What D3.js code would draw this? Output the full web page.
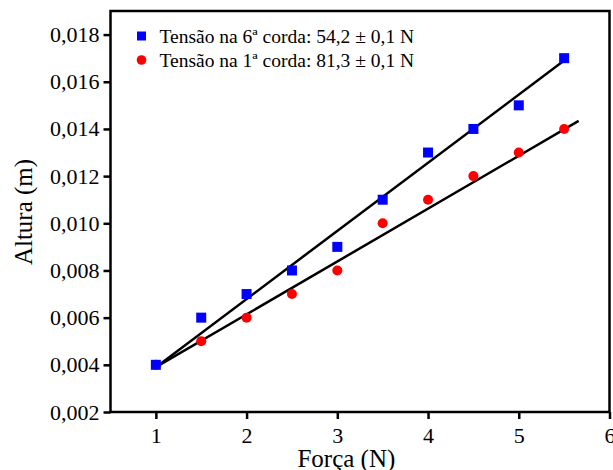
<!DOCTYPE html>
<html>
<head>
<meta charset="utf-8">
<script src="https://cdn.jsdelivr.net/npm/d3@7"></script>
<style>
  body { margin: 0; background: #fff; }
  svg { display: block; font-family: "Liberation Serif", "Times New Roman", serif; }
</style>
</head>
<body>
<svg id="chart" width="613" height="470"></svg>
<script>
// data
var forca = [1, 1.5, 2, 2.5, 3, 3.5, 4, 4.5, 5, 5.5];
var altura6 = [0.004, 0.006, 0.007, 0.008, 0.009, 0.011, 0.013, 0.014, 0.015, 0.017];
var altura1 = [0.004, 0.005, 0.006, 0.007, 0.008, 0.010, 0.011, 0.012, 0.013, 0.014];

// fitted lines (end points as drawn)
var fit6X = [1, 5.5];
var fit6Y = [0.0039, 0.0169];
var fit1X = [1, 5.66];
var fit1Y = [0.0039, 0.01434];

var xTicks = [1, 2, 3, 4, 5, 6];
var yTicks = [0.002, 0.004, 0.006, 0.008, 0.010, 0.012, 0.014, 0.016, 0.018];

var legendLabels = ['Tensão na 6ª corda: 54,2 ± 0,1 N', 'Tensão na 1ª corda: 81,3 ± 0,1 N'];

var margin = {left: 110.5, top: 11, right: 3.5, bottom: 58};
var width = 613 - margin.left - margin.right;
var height = 470 - margin.top - margin.bottom;

var svg = d3.select('#chart');
var g = svg.append('g').attr('transform', 'translate(' + margin.left + ',' + margin.top + ')');

var x = d3.scaleLinear().domain([0.5, 6]).range([0, width]);
var y = d3.scaleLinear().domain([0.002, 0.019]).range([height, 0]);

var fmt = function(d) { return d3.format('.3f')(d).replace('.', ','); };

var xAxis = g.append('g')
    .attr('transform', 'translate(0,' + height + ')')
    .call(d3.axisBottom(x).tickValues(xTicks).tickSize(7).tickPadding(8).tickFormat(d3.format('d')));
var yAxis = g.append('g')
    .call(d3.axisLeft(y).tickValues(yTicks).tickSize(7).tickPadding(4).tickFormat(fmt));

[xAxis, yAxis].forEach(function(a) {
  a.select('.domain').remove();
  a.selectAll('line').attr('stroke', '#000').attr('stroke-width', 2.5);
  a.selectAll('text').attr('font-family', '"Liberation Serif", serif').attr('font-size', 22).attr('fill', '#000');
});

// frame
g.append('rect')
  .attr('x', 0).attr('y', 0)
  .attr('width', width).attr('height', height)
  .attr('fill', 'none').attr('stroke', '#000').attr('stroke-width', 2.5);

// fit lines
var line = d3.line().x(function(d) { return x(d[0]); }).y(function(d) { return y(d[1]); });
g.append('path').datum(d3.zip(fit6X, fit6Y)).attr('d', line)
  .attr('stroke', '#000').attr('stroke-width', 2.5).attr('fill', 'none');
g.append('path').datum(d3.zip(fit1X, fit1Y)).attr('d', line)
  .attr('stroke', '#000').attr('stroke-width', 2.5).attr('fill', 'none');

// red circles
g.selectAll('circle.c1').data(d3.zip(forca, altura1)).join('circle')
  .attr('class', 'c1')
  .attr('cx', function(d) { return x(d[0]); })
  .attr('cy', function(d) { return y(d[1]); })
  .attr('r', 5)
  .attr('fill', '#f00');

// blue squares
var s = 10;
g.selectAll('rect.s6').data(d3.zip(forca, altura6)).join('rect')
  .attr('class', 's6')
  .attr('x', function(d) { return x(d[0]) - s / 2; })
  .attr('y', function(d) { return y(d[1]) - s / 2; })
  .attr('width', s).attr('height', s)
  .attr('fill', '#0000ff');

// legend
var leg = g.append('g').attr('transform', 'translate(31,25)');
leg.append('rect').attr('x', -4.5).attr('y', -4.5).attr('width', 9).attr('height', 9).attr('fill', '#0000ff');
leg.append('circle').attr('cx', 0).attr('cy', 24).attr('r', 4.8).attr('fill', '#f00');
leg.selectAll('text').data(legendLabels).join('text')
  .attr('x', 18)
  .attr('y', function(d, i) { return i * 24 + 7; })
  .attr('font-size', 19.5)
  .attr('fill', '#000')
  .text(function(d) { return d; });

// axis titles
svg.append('text')
  .attr('x', margin.left + x(3.1))
  .attr('y', 467)
  .attr('text-anchor', 'middle')
  .attr('font-size', 25)
  .text('Força (N)');
svg.append('text')
  .attr('transform', 'translate(32,212) rotate(-90)')
  .attr('text-anchor', 'middle')
  .attr('font-size', 25)
  .text('Altura (m)');
</script>
</body>
</html>
